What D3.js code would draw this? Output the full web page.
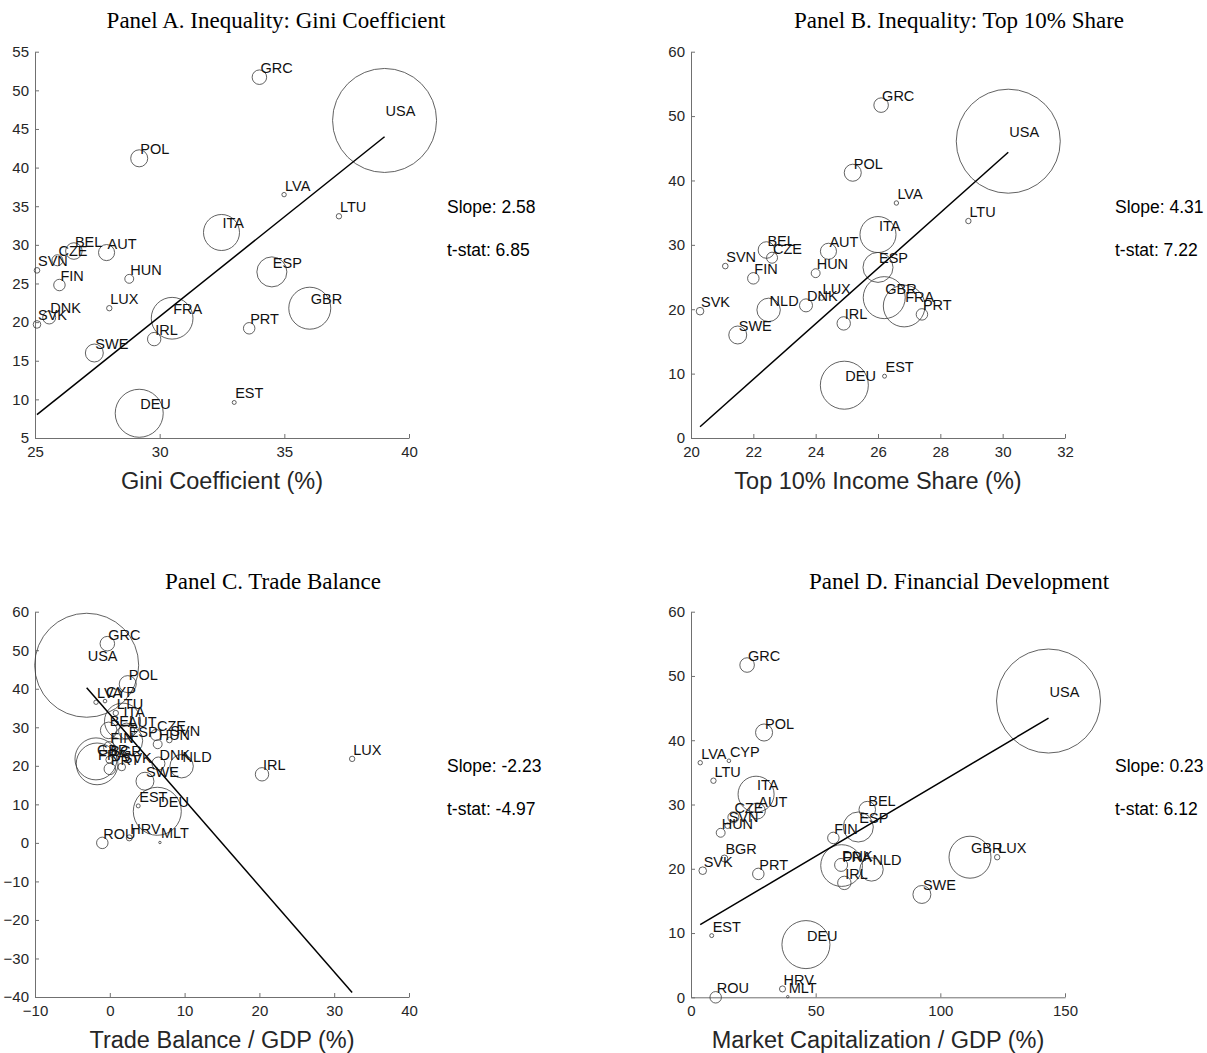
<!DOCTYPE html>
<html>
<head>
<meta charset="utf-8">
<script src="https://cdn.jsdelivr.net/npm/d3@7"></script>
<style>
  body { margin: 0; background: #fff; }
  svg text { font-family: "Liberation Sans", Arial, Helvetica, sans-serif; }
  svg text.title { font-family: "Liberation Serif", "Times New Roman", Times, serif; }
</style>
</head>
<body>
<svg id="chart" width="1207" height="1053"></svg>
<script>
// Country codes and the shared outcome plotted on every vertical axis
const countries = ["USA","GRC","POL","LVA","CYP","LTU","ITA","BEL","AUT","CZE","ESP","SVN","HUN","FIN","GBR","BGR","FRA","PRT","SVK","DNK","NLD","LUX","IRL","SWE","EST","DEU","HRV","ROU","MLT"];
const outcome   = [46.1, 51.7, 41.2, 36.5, 36.8, 33.7, 31.6, 29.2, 29.0, 28.0, 26.5, 26.7, 25.6, 24.8, 21.8, 21.6, 20.5, 19.2, 19.7, 20.6, 19.9, 21.8, 17.8, 16.0, 9.6, 8.2, 1.3, 0.0, 0.1];
// Bubble weight (economy size, USD trillions)
const econSize  = [20.5, 0.40, 0.55, 0.037, 0.025, 0.055, 2.46, 0.52, 0.49, 0.23, 1.71, 0.06, 0.15, 0.25, 3.34, 0.09, 3.3, 0.25, 0.11, 0.32, 1.04, 0.055, 0.34, 0.61, 0.03, 4.37, 0.07, 0.25, 0.011];

// Explanatory variables (null = not available)
const giniCoef     = [39.02, 34.0, 29.18, 34.99, null, 37.19, 32.48, 26.56, 27.87, 25.9, 34.5, 25.08, 28.78, 25.98, 36.02, null, 30.5, 33.59, 25.08, 25.57, null, 27.98, 29.78, 27.38, 32.99, 29.18, null, null, null];
const top10Share   = [30.18, 26.1, 25.19, 26.59, null, 28.9, 26.0, 22.42, 24.41, 22.6, 26.0, 21.1, 24.0, 22.0, 26.2, null, 26.84, 27.41, 20.29, 23.69, 22.49, 24.19, 24.9, 21.5, 26.21, 24.92, null, null, null];
const tradeBalance = [-3.09, -0.33, 2.4, -1.84, -0.64, 0.8, 1.7, -0.15, 2.25, 6.18, 2.39, 7.96, 6.4, -0.07, -1.85, -0.07, -1.7, 0.0, 1.6, 6.5, 9.6, 32.4, 20.35, 4.7, 3.8, 6.35, 2.6, -1.0, 6.7];
const marketCap    = [143.4, 22.5, 29.3, 3.7, 15.2, 9.0, 26.1, 70.7, 26.6, 17.0, 67.1, 14.7, 11.9, 57.1, 111.9, 13.4, 60.4, 27.0, 4.7, 60.2, 72.4, 122.8, 61.5, 92.6, 8.3, 46.1, 36.7, 9.9, 38.8];

// Panel titles, axis titles and fitted-line statistics
const panelTitles = ["Panel A. Inequality: Gini Coefficient", "Panel B. Inequality: Top 10% Share", "Panel C. Trade Balance", "Panel D. Financial Development"];
const xTitles     = ["Gini Coefficient (%)", "Top 10% Income Share (%)", "Trade Balance / GDP (%)", "Market Capitalization / GDP (%)"];
const slopes      = [2.58, 4.31, -2.23, 0.23];
const tStats      = [6.85, 7.22, -4.97, 6.12];
const intercepts  = [-56.68, -85.7, 33.4, 10.45];

// Tick values
const xTicksA = [25, 30, 35, 40];
const yTicksA = [5, 10, 15, 20, 25, 30, 35, 40, 45, 50, 55];
const xTicksB = [20, 22, 24, 26, 28, 30, 32];
const yTicksB = [0, 10, 20, 30, 40, 50, 60];
const xTicksC = [-10, 0, 10, 20, 30, 40];
const yTicksC = [-40, -30, -20, -10, 0, 10, 20, 30, 40, 50, 60];
const xTicksD = [0, 50, 100, 150];
const yTicksD = [0, 10, 20, 30, 40, 50, 60];

const panels = [
  { xs: giniCoef,     xTicks: xTicksA, yTicks: yTicksA, box: { l: 35,  r: 409,  t: 51.7,  b: 438 },  titleX: 276, titleY: 28,  statX: 447,  statY: 207 },
  { xs: top10Share,   xTicks: xTicksB, yTicks: yTicksB, box: { l: 691, r: 1065, t: 51.7,  b: 438 },  titleX: 959, titleY: 28,  statX: 1115, statY: 207 },
  { xs: tradeBalance, xTicks: xTicksC, yTicks: yTicksC, box: { l: 35,  r: 409,  t: 611.7, b: 997 },  titleX: 273, titleY: 589, statX: 447,  statY: 766 },
  { xs: marketCap,    xTicks: xTicksD, yTicks: yTicksD, box: { l: 691, r: 1065, t: 611.7, b: 997.3 }, titleX: 959, titleY: 589, statX: 1115, statY: 766 }
];

const svg = d3.select("#chart");
const rScale = d3.scaleSqrt().domain([0, d3.max(econSize)]).range([0, 52]);
const axisColor = "#707070";
const inkColor = "#262626";

panels.forEach((p, i) => {
  const pts = countries.map((c, k) => ({ code: c, x: p.xs[k], y: outcome[k], s: econSize[k] }))
                       .filter(d => d.x !== null);

  const x = d3.scaleLinear().domain(d3.extent(p.xTicks)).range([p.box.l, p.box.r]);
  const y = d3.scaleLinear().domain(d3.extent(p.yTicks)).range([p.box.b, p.box.t]);

  const g = svg.append("g");

  // Axes: left and bottom only, ticks pointing inward
  const xAxis = g.append("g")
    .attr("transform", `translate(0,${p.box.b})`)
    .call(d3.axisBottom(x).tickValues(p.xTicks).tickFormat(d3.format("d"))
      .tickSizeInner(-4).tickSizeOuter(0).tickPadding(8));
  const yAxis = g.append("g")
    .attr("transform", `translate(${p.box.l},0)`)
    .call(d3.axisLeft(y).tickValues(p.yTicks).tickFormat(d3.format("d"))
      .tickSizeInner(-4).tickSizeOuter(0).tickPadding(6));
  [xAxis, yAxis].forEach(a => {
    a.select(".domain").attr("stroke", axisColor).attr("stroke-width", 1);
    a.selectAll(".tick line").attr("stroke", axisColor).attr("stroke-width", 1);
    a.selectAll(".tick text").attr("fill", inkColor).style("font-size", "15px")
      .style("font-family", '"Liberation Sans", Arial, sans-serif');
  });

  // Bubbles
  g.append("g").selectAll("circle")
    .data(pts)
    .join("circle")
    .attr("cx", d => x(d.x))
    .attr("cy", d => y(d.y))
    .attr("r", d => Math.max(rScale(d.s), 1.2))
    .attr("fill", "none")
    .attr("stroke", "#3a3a3a")
    .attr("stroke-width", 0.8);

  // Fitted line over the range of the data
  const [x0, x1] = d3.extent(pts, d => d.x);
  const fit = v => intercepts[i] + slopes[i] * v;
  g.append("line")
    .attr("x1", x(x0)).attr("y1", y(fit(x0)))
    .attr("x2", x(x1)).attr("y2", y(fit(x1)))
    .attr("stroke", "#000").attr("stroke-width", 1.5);

  // Country labels
  g.append("g").selectAll("text")
    .data(pts)
    .join("text")
    .attr("x", d => x(d.x) + 1)
    .attr("y", d => y(d.y) - 4)
    .attr("fill", "#111")
    .style("font-size", "14.5px")
    .text(d => d.code);

  // Titles
  g.append("text")
    .attr("class", "title")
    .attr("x", p.titleX).attr("y", p.titleY)
    .attr("text-anchor", "middle")
    .attr("fill", "#000")
    .style("font-size", "23px")
    .text(panelTitles[i]);

  g.append("text")
    .attr("x", (p.box.l + p.box.r) / 2)
    .attr("y", p.box.b + 51)
    .attr("text-anchor", "middle")
    .attr("fill", inkColor)
    .style("font-size", "23.5px")
    .text(xTitles[i]);

  // Regression statistics
  g.append("text")
    .attr("x", p.statX).attr("y", p.statY).attr("dy", "0.35em")
    .attr("fill", "#000").style("font-size", "17.5px")
    .text(`Slope: ${slopes[i].toFixed(2)}`);
  g.append("text")
    .attr("x", p.statX).attr("y", p.statY + 43).attr("dy", "0.35em")
    .attr("fill", "#000").style("font-size", "17.5px")
    .text(`t-stat: ${tStats[i].toFixed(2)}`);
});
</script>
</body>
</html>
